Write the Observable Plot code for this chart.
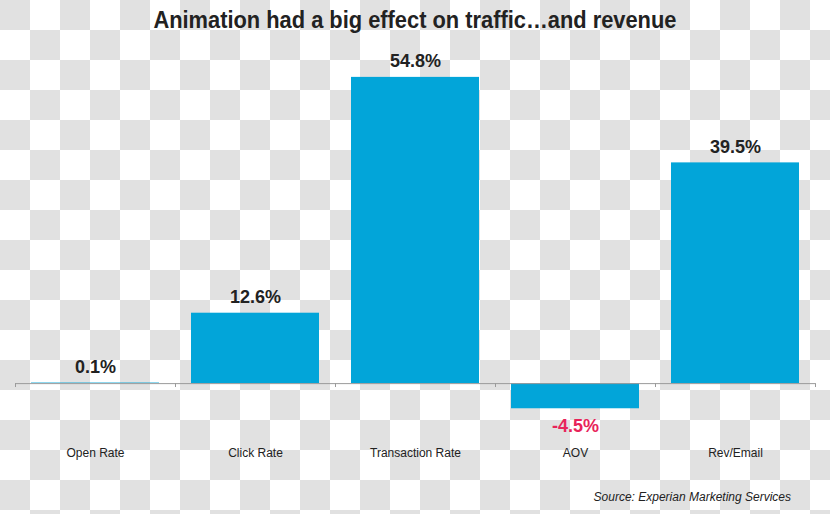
<!DOCTYPE html>
<html>
<head>
<meta charset="utf-8">
<script src="https://cdn.jsdelivr.net/npm/d3@7"></script>
<script src="https://cdn.jsdelivr.net/npm/@observablehq/plot@0.6"></script>
<style>
  html, body { margin: 0; padding: 0; }
  #wrap {
    position: relative; width: 830px; height: 514px; overflow: hidden;
    background-color: #ffffff;
    background-image:
      linear-gradient(45deg, #e1e1e1 25%, transparent 25%, transparent 75%, #e1e1e1 75%),
      linear-gradient(45deg, #e1e1e1 25%, transparent 25%, transparent 75%, #e1e1e1 75%);
    background-size: 60px 60px;
    background-position: 30px 0, 0 30px;
    font-family: "Liberation Sans", Arial, sans-serif;
  }
  #title {
    position: absolute; left: 0; top: 6px; width: 830px; text-align: center;
    font-family: "Liberation Sans", Arial, sans-serif;
    font-weight: bold; font-size: 24px; color: #222;
    transform: scaleX(0.91); transform-origin: 414px 0;
  }
  #chart { position: absolute; left: 0; top: 44px; }
  #source {
    position: absolute; right: 39px; top: 490px;
    font-style: italic; font-size: 12px; color: #222;
  }
</style>
</head>
<body>
<div id="wrap">
  <div id="title">Animation had a big effect on traffic…and revenue</div>
  <div id="chart"></div>
  <div id="source">Source: Experian Marketing Services</div>
</div>
<script>
const categories = ["Open Rate", "Click Rate", "Transaction Rate", "AOV", "Rev/Email"];
const values = [0.1, 12.6, 54.8, -4.5, 39.5];
const valueLabels = ["0.1%", "12.6%", "54.8%", "-4.5%", "39.5%"];

const data = categories.map((c, i) => ({category: c, value: values[i], label: valueLabels[i]}));
const pos = data.filter(d => d.value >= 0);
const neg = data.filter(d => d.value < 0);

const plot = Plot.plot({
  width: 830,
  height: 440,
  marginLeft: 15,
  marginRight: 15,
  marginTop: 15,
  marginBottom: 45,
  style: {background: "transparent", fontFamily: "'Liberation Sans', Arial, sans-serif"},
  x: {domain: categories, paddingInner: 0.2, paddingOuter: 0.1, label: null},
  y: {domain: [-10, 58], axis: null},
  marks: [
    Plot.axisX({tickSize: 0, tickPadding: 9, fontSize: 12, color: "#222", label: null}),
    Plot.barY(data, {x: "category", y: "value", fill: "#02a5d9"}),
    Plot.ruleY([0], {stroke: "#9a9a9a", strokeWidth: 1}),
    Plot.ruleX(categories, {x: d => d, y1: 0, y2: -0.7, dx: -80, stroke: "#9a9a9a"}),
    Plot.ruleX([categories[4]], {x: d => d, y1: 0, y2: -0.7, dx: 80, stroke: "#9a9a9a"}),
    Plot.text(pos, {x: "category", y: "value", text: "label", dy: -16, fontSize: 18, fontWeight: "bold", fill: "#222", lineAnchor: "middle"}),
    Plot.text(neg, {x: "category", y: "value", text: "label", dy: 17, fontSize: 18, fontWeight: "bold", fill: "#e8245a", lineAnchor: "middle"})
  ]
});
document.getElementById("chart").appendChild(plot);
</script>
</body>
</html>
